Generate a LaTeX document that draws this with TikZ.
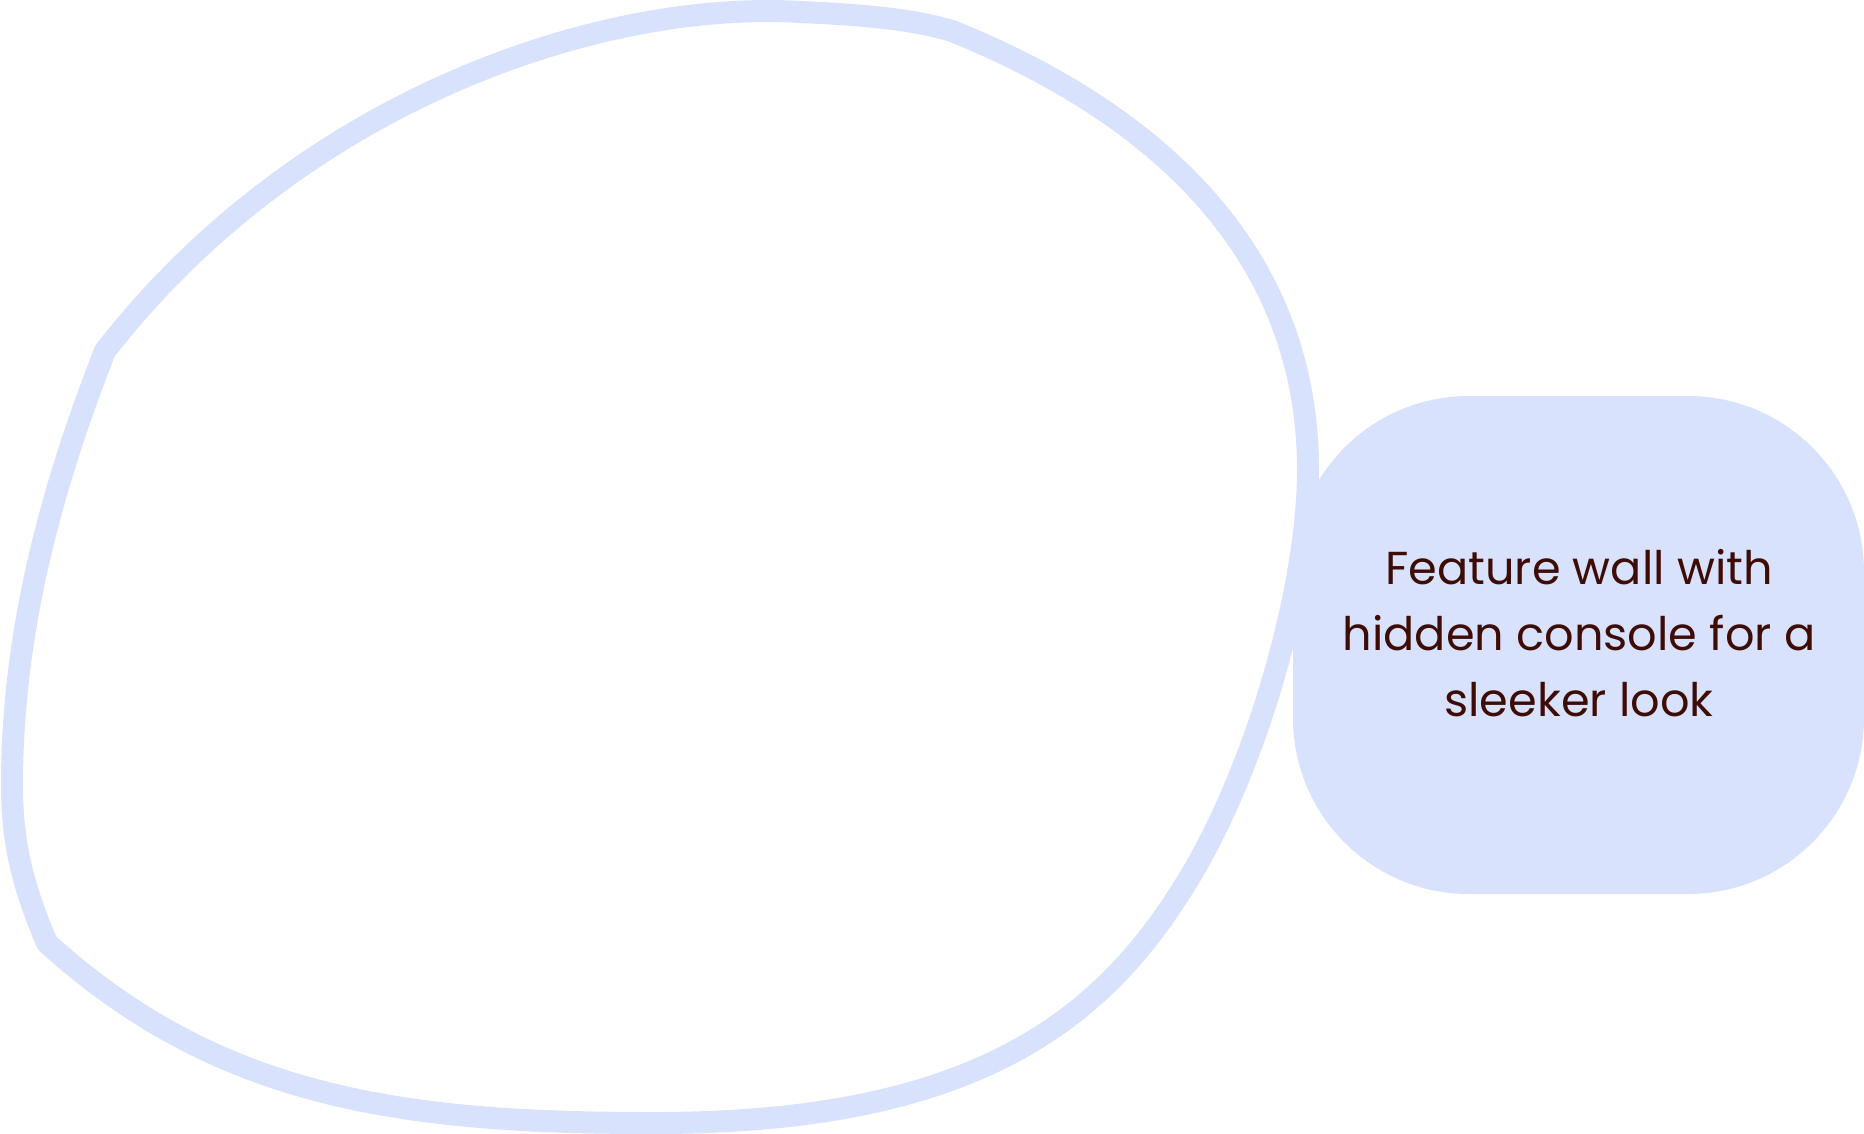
\documentclass[tikz,border=0pt]{standalone}
\usepackage{fontspec}
\newfontfamily\labelfont{Poppins}
\definecolor{blobblue}{RGB}{217,226,253}
\definecolor{textbrown}{RGB}{61,12,5}
\tikzset{
  blobline/.style={draw=blobblue, line width=22pt, line join=round},
  notebox/.style={fill=blobblue, draw=none, rounded corners=176pt},
  noteline/.style={text=textbrown, inner sep=0pt, anchor=base, font=\labelfont\fontsize{46.2}{66}\selectfont}
}
\begin{document}
\begin{tikzpicture}[x=1pt,y=-1pt]
\useasboundingbox (0,0) rectangle (1864,1134);
\path[blobline]
 (105,351) .. controls (300,100) and (600,0) .. (800,12)
 .. controls (870,15) and (915,20) .. (952,31)
 .. controls (1160,115) and (1308,255) .. (1308,470)
 .. controls (1308,585) and (1258,765) .. (1188,880)
 .. controls (1103,1020) and (975,1124) .. (650,1123)
 .. controls (400,1123) and (217,1097) .. (47,943)
 .. controls (23.6,887.8) and (12,845) .. (12,785)
 .. controls (12,635) and (49.5,492.5) .. (105,351) -- cycle;
\path[notebox] (1293,396) rectangle (1864,894);
\node[noteline] (note1) at (1579,584) {Feature wall with};
\node[noteline] (note2) at (1579,650) {hidden console for a};
\node[noteline] (note3) at (1579,716) {sleeker look};
\end{tikzpicture}
\end{document}
